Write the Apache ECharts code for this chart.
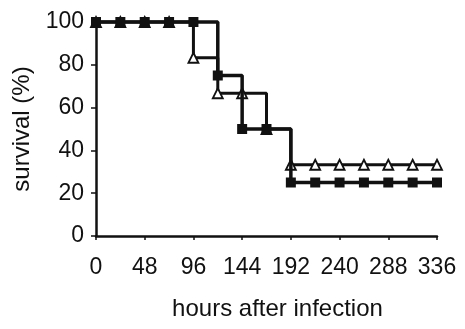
<!DOCTYPE html>
<html>
<head>
<meta charset="utf-8">
<script src="https://cdn.jsdelivr.net/npm/echarts@6/dist/echarts.min.js"></script>
<style>html,body{margin:0;padding:0;background:#fff;}#c{width:465px;height:329px;}</style>
</head>
<body>
<div id="c"></div>
<script>
var hours = [0, 24, 48, 72, 96, 120, 144, 168, 192, 216, 240, 264, 288, 312, 336];
var filledSquares = [100, 100, 100, 100, 100, 75, 50, 50, 25, 25, 25, 25, 25, 25, 25];
var openTriangles = [100, 100, 100, 100, 83.3, 66.7, 66.7, 50, 33.3, 33.3, 33.3, 33.3, 33.3, 33.3, 33.3];
var xTicks = [0, 48, 96, 144, 192, 240, 288, 336];
var yTicks = [0, 20, 40, 60, 80, 100];

function pairs(xs, ys) { return xs.map(function (x, i) { return [x, ys[i]]; }); }

var font = 'Liberation Sans, Arial, sans-serif';
var chart = echarts.init(document.getElementById('c'), null, {renderer: 'canvas'});
chart.setOption({
  animation: false,
  backgroundColor: '#fff',
  grid: {left: 96, right: 28, top: 22, bottom: 93, containLabel: false},
  xAxis: {
    type: 'value', min: 0, max: 336, interval: 48,
    name: 'hours after infection', nameLocation: 'middle', nameGap: 61,
    nameTextStyle: {fontFamily: font, fontSize: 24, color: '#111', padding: [0, 0, 0, 22]},
    axisLine: {lineStyle: {color: '#111', width: 2.5}},
    axisTick: {show: true, length: 4, lineStyle: {color: '#111', width: 1.5}},
    axisLabel: {fontFamily: font, fontSize: 23, color: '#111', margin: 20},
    splitLine: {show: false}
  },
  yAxis: {
    type: 'value', min: 0, max: 100, interval: 20,
    name: 'survival (%)', nameLocation: 'middle', nameGap: 53, nameRotate: 90,
    nameTextStyle: {fontFamily: font, fontSize: 24, color: '#111'},
    axisLine: {show: true, lineStyle: {color: '#111', width: 2.5}},
    axisTick: {show: true, length: 5, lineStyle: {color: '#111', width: 1.5}},
    axisLabel: {fontFamily: font, fontSize: 23, color: '#111', margin: 12},
    splitLine: {show: false}
  },
  series: [
    {
      type: 'line', step: 'end', data: pairs(hours, openTriangles),
      symbol: 'triangle', symbolSize: 10, showAllSymbol: true, clip: false, z: 2,
      lineStyle: {color: '#111', width: 3},
      itemStyle: {color: '#fff', borderColor: '#111', borderWidth: 1.8}
    },
    {
      type: 'line', step: 'end', data: pairs(hours, filledSquares),
      symbol: 'rect', symbolSize: 10, showAllSymbol: true, clip: false, z: 3,
      lineStyle: {color: '#111', width: 3.5},
      itemStyle: {color: '#111', borderColor: '#111', borderWidth: 0}
    }
  ]
});
</script>
</body>
</html>
